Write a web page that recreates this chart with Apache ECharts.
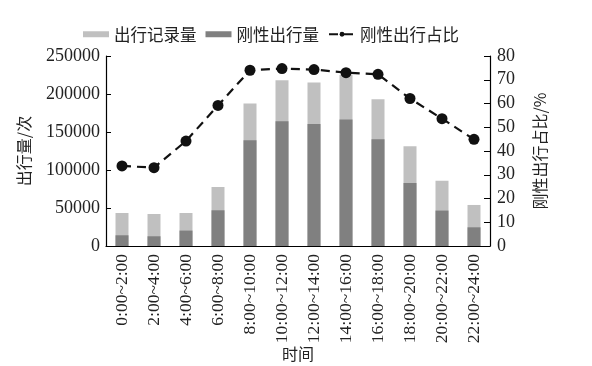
<!DOCTYPE html>
<html><head><meta charset="utf-8">
<script src="https://cdn.jsdelivr.net/npm/echarts@6/dist/echarts.min.js"></script>
<style>html,body{margin:0;padding:0;background:#fff}#c{width:592px;height:366px}</style>
</head><body><div id="c"></div>
<script>
const categories = ['0:00~2:00','2:00~4:00','4:00~6:00','6:00~8:00','8:00~10:00','10:00~12:00','12:00~14:00','14:00~16:00','16:00~18:00','18:00~20:00','20:00~22:00','22:00~24:00'];
const totalTrips = [43400, 42100, 43400, 77600, 187400, 218000, 215000, 225000, 193000, 131200, 86000, 54000];
const rigidTrips = [14100, 12800, 20300, 47000, 139100, 164100, 160500, 166300, 140400, 82900, 46600, 24600];
const rigidShare = [33.7, 33.0, 44.2, 59.2, 74.0, 74.7, 74.3, 73.0, 72.3, 62.1, 53.6, 44.9];
const leftTicks = [0, 50000, 100000, 150000, 200000, 250000];
const rightTicks = [0, 10, 20, 30, 40, 50, 60, 70, 80];

const serif = '"Liberation Serif","Noto Sans CJK SC",serif';
const cjk = '"Noto Sans CJK SC",serif';
const chart = echarts.init(document.getElementById('c'), null, {renderer:'canvas'});
chart.setOption({
  animation:false,
  backgroundColor:'#fff',
  legend:{
    left:78, top:21, itemGap:9, itemWidth:26, itemHeight:6,
    textStyle:{fontFamily:cjk, fontSize:16.5, color:'#222'},
    data:[
      {name:'出行记录量', icon:'rect'},
      {name:'刚性出行量', icon:'rect'},
      {name:'刚性出行占比'}
    ]
  },
  grid:{left:106, right:102, top:56, bottom:120, containLabel:false, outerBoundsMode:'none'},
  xAxis:{
    type:'category', data:categories,
    name:'时间', nameLocation:'middle', nameGap:100, nameMoveOverlap:false,
    nameTextStyle:{fontFamily:cjk, fontSize:16, color:'#222'},
    axisLine:{lineStyle:{color:'#000', width:1.2}},
    axisTick:{show:false},
    axisLabel:{rotate:90, fontFamily:serif, fontSize:17.5, color:'#222', margin:8, interval:0}
  },
  yAxis:[{
    type:'value', min:0, max:250000, interval:50000, position:'left',
    name:'出行量/次', nameLocation:'middle', nameGap:74, nameRotate:90, nameMoveOverlap:false,
    nameTextStyle:{fontFamily:cjk, fontSize:16, color:'#222'},
    axisLine:{show:true, lineStyle:{color:'#000', width:1.2}},
    axisTick:{show:true, inside:true, length:5, lineStyle:{color:'#000'}},
    splitLine:{show:false},
    axisLabel:{fontFamily:serif, fontSize:18, color:'#222', margin:6,
      formatter:v=>leftTicks.includes(v)?String(v):''}
  },{
    type:'value', min:0, max:80, interval:10, position:'right',
    name:'刚性出行占比/%', nameLocation:'middle', nameGap:42, nameRotate:90, nameMoveOverlap:false,
    nameTextStyle:{fontFamily:cjk, fontSize:16, color:'#222'},
    axisLine:{show:true, lineStyle:{color:'#000', width:1.2}},
    axisTick:{show:true, inside:true, length:6, lineStyle:{color:'#000'}},
    splitLine:{show:false},
    axisLabel:{fontFamily:serif, fontSize:18, color:'#222', margin:7,
      formatter:v=>rightTicks.includes(v)?String(v):''}
  }],
  series:[
    {name:'出行记录量', type:'bar', data:totalTrips, barWidth:13, barGap:'-100%',
     itemStyle:{color:'#c0c0c0'}, z:1},
    {name:'刚性出行量', type:'bar', data:rigidTrips, barWidth:13, barGap:'-100%',
     itemStyle:{color:'#808080'}, z:2},
    {name:'刚性出行占比', type:'line', yAxisIndex:1, data:rigidShare,
     symbol:'circle', symbolSize:11, itemStyle:{color:'#111'},
     lineStyle:{color:'#111', width:2.2, type:[9,6]}, z:3}
  ]
});
</script></body></html>
